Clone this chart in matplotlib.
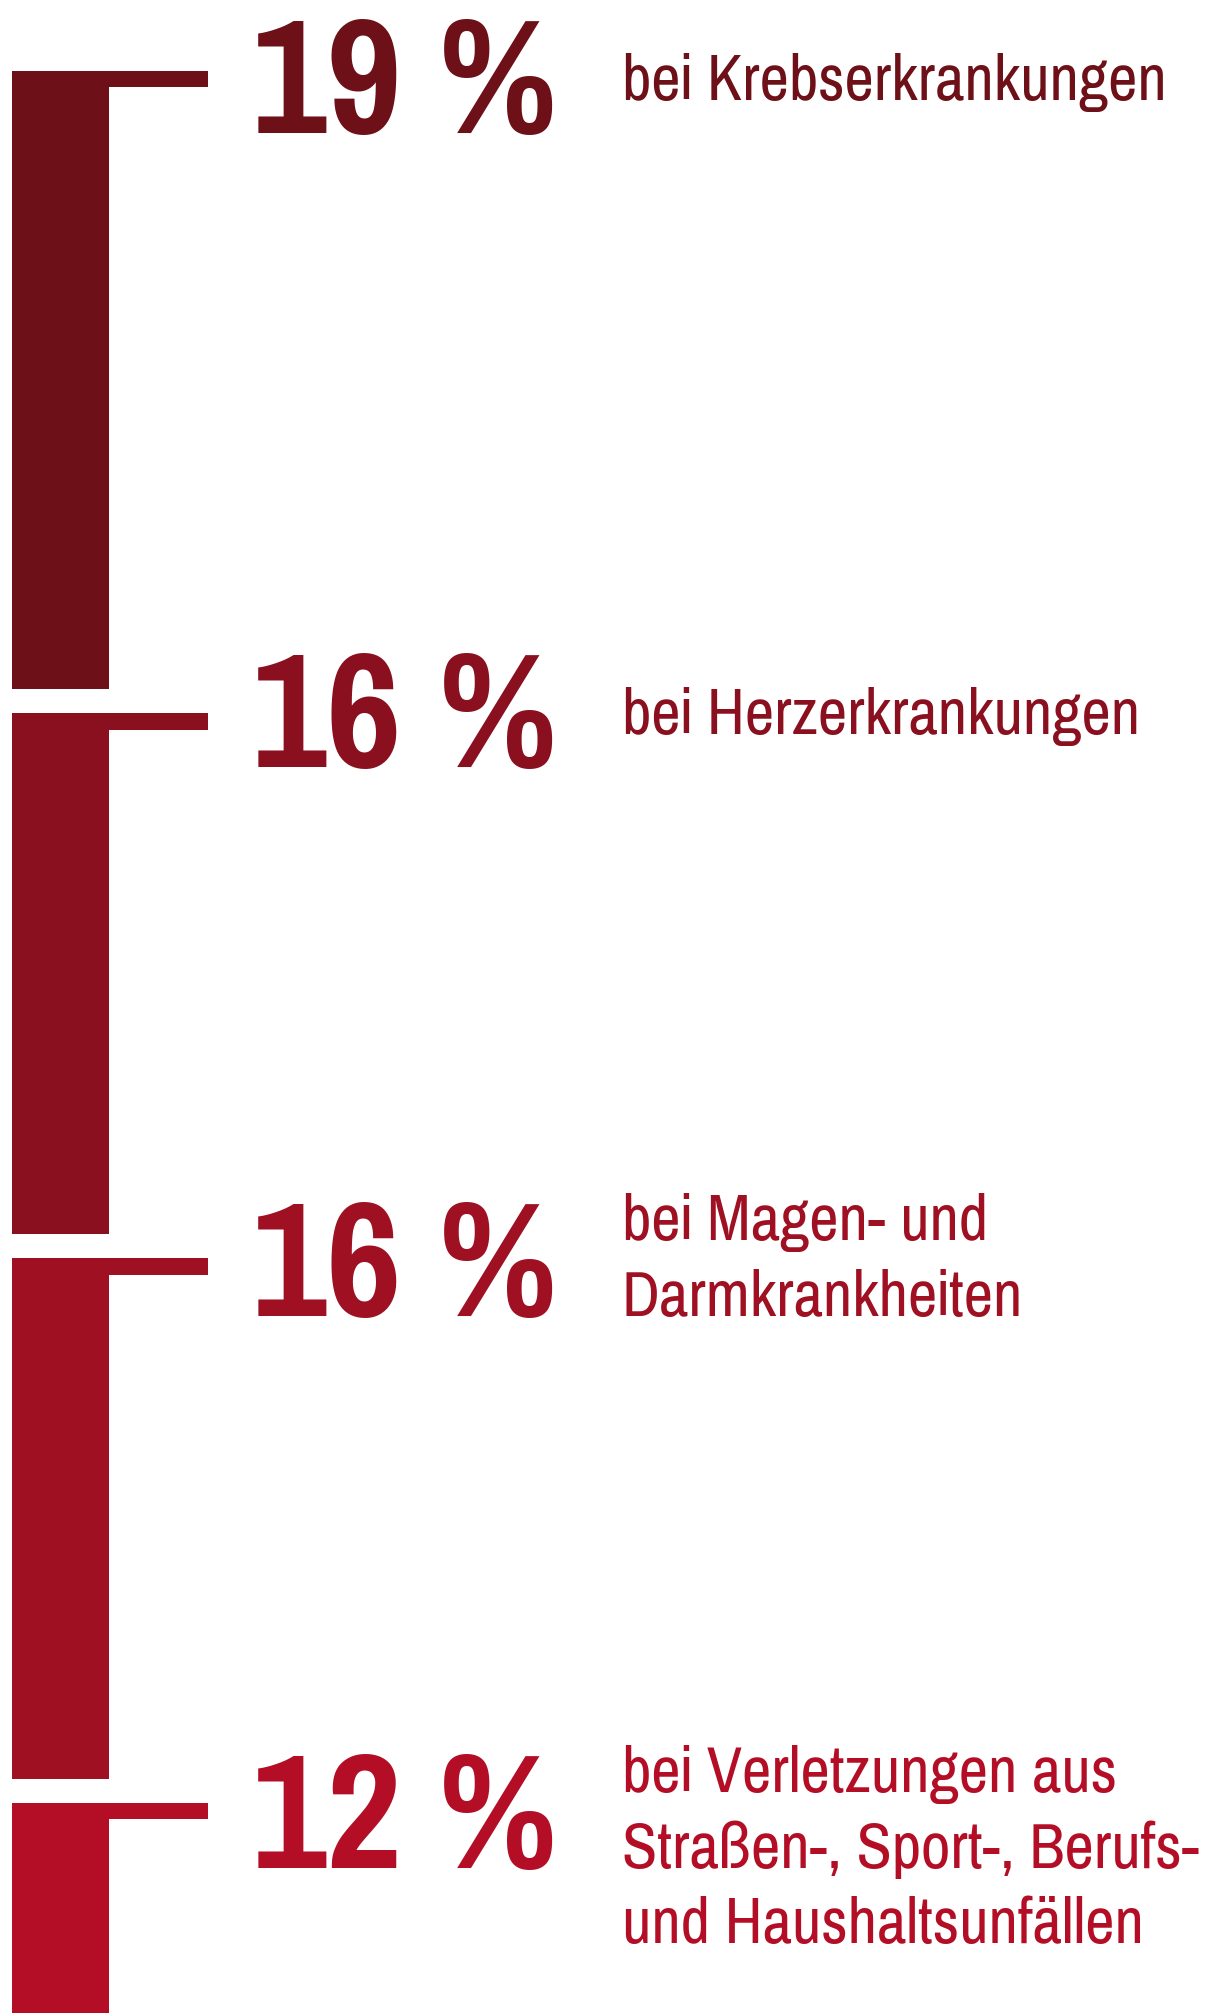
import matplotlib
matplotlib.use("Agg")
import matplotlib.pyplot as plt
from matplotlib import font_manager

# share of sick-leave days by diagnosis group
values = [19, 16, 16, 12]
value_labels = ["19 %", "16 %", "16 %", "12 %"]
descriptions = [
    "bei Krebserkrankungen",
    "bei Herzerkrankungen",
    "bei Magen- und\nDarmkrankheiten",
    "bei Verletzungen aus\nStraßen-, Sport-, Berufs-\nund Haushaltsunfällen",
]
colors = ["#6e1018", "#8a1020", "#9e1022", "#b30e26"]

W, H = 1208, 2013
px = 32.55            # pixels per percentage point
gap = 24 / px
first_top = 70.6 / px
num_offset = [62, 54, 58, 65]   # number baseline below segment top, px
line_step = 75.7

installed = {f.name for f in font_manager.fontManager.ttflist}
narrow = next(f for f in ["Pragati Narrow", "Roboto Condensed", "Liberation Sans Narrow", "DejaVu Sans"]
              if f in installed)

fig = plt.figure(figsize=(W / 100, H / 100), dpi=100)
ax = fig.add_axes([0, 0, 1, 1])
ax.set_xlim(0, W)
ax.set_ylim(H / px, 0)
ax.axis("off")
renderer = fig.canvas.get_renderer()


def fit_size(text, weight, target):
    t = ax.text(0, 0, text, fontsize=50, family=narrow, fontweight=weight)
    w = t.get_window_extent(renderer).width
    t.remove()
    return 50 * target / w


num_size = fit_size("19 %", "bold", 306)
desc_size = fit_size("bei Krebserkrankungen", "normal", 546)

tops = []
y = first_top
for v in values:
    tops.append(y)
    y += v + gap

# stacked segments plus the short cap line at each top
ax.bar(11.6, values, width=97.4, bottom=tops, align="edge", color=colors, linewidth=0)
ax.bar(11.6, 16.7 / px, width=196.4, bottom=tops, align="edge", color=colors, linewidth=0)

for top, lab, desc, c, off in zip(tops, value_labels, descriptions, colors, num_offset):
    base = top + off / px
    ax.text(252, base, lab, fontsize=num_size, fontweight="bold", family=narrow,
            color=c, va="baseline", ha="left")
    lines = desc.split("\n")
    first = base - (33 if len(lines) == 1 else line_step) / px
    for i, line in enumerate(lines):
        ax.text(622, first + i * line_step / px, line, fontsize=desc_size, family=narrow,
                color=c, va="baseline", ha="left")

fig.savefig("out.png", dpi=100)
